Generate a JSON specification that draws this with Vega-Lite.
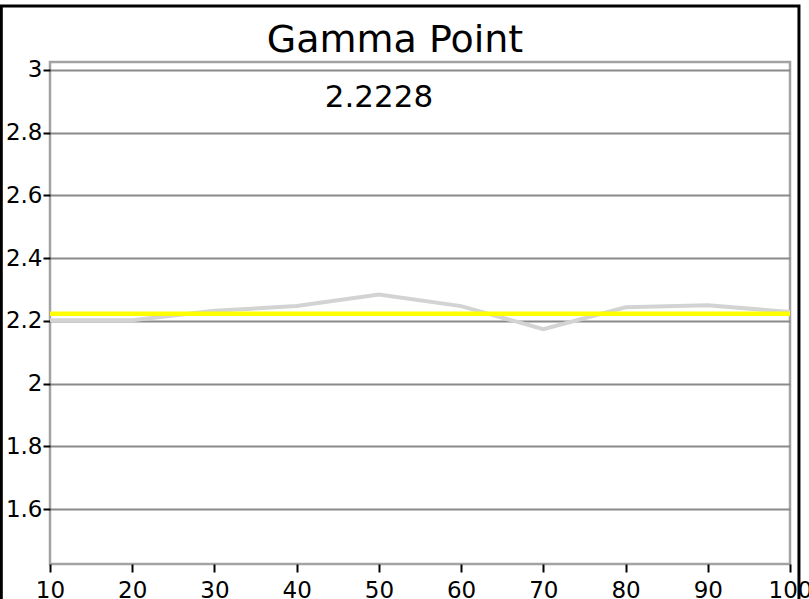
{
  "$schema": "https://vega.github.io/schema/vega-lite/v6.json",
  "width": 740,
  "height": 502,
  "autosize": {"type": "none"},
  "padding": {"left": 50, "top": 62, "right": 19, "bottom": 35},
  "background": "white",
  "datasets": {
    "curve": [
      {"level": 10, "gamma": 2.202},
      {"level": 20, "gamma": 2.202},
      {"level": 30, "gamma": 2.232},
      {"level": 40, "gamma": 2.247},
      {"level": 50, "gamma": 2.284},
      {"level": 60, "gamma": 2.247},
      {"level": 70, "gamma": 2.1735},
      {"level": 80, "gamma": 2.243},
      {"level": 90, "gamma": 2.25},
      {"level": 100, "gamma": 2.228}
    ],
    "target": [{"gamma": 2.2228}],
    "frame": [{"name": "frame"}]
  },
  "title": {
    "text": "Gamma Point",
    "font": "DejaVu Sans",
    "fontSize": 38,
    "fontWeight": "normal",
    "color": "black",
    "anchor": "middle",
    "frame": "group",
    "dx": -25,
    "dy": 36,
    "offset": -58,
    "baseline": "bottom"
  },
  "config": {
    "view": {"stroke": "#a3a3a3", "strokeWidth": 2.5},
    "axis": {
      "labelFont": "DejaVu Sans",
      "labelColor": "black",
      "tickColor": "black",
      "tickWidth": 2,
      "domain": false,
      "title": null
    }
  },
  "layer": [
    {
      "data": {"name": "curve"},
      "mark": {"type": "line", "color": "#d3d3d3", "strokeWidth": 4},
      "encoding": {
        "x": {
          "field": "level",
          "type": "quantitative",
          "scale": {"domain": [10, 100], "nice": false, "zero": false},
          "axis": {
            "values": [10, 20, 30, 40, 50, 60, 70, 80, 90, 100],
            "format": "d",
            "grid": false,
            "labelFontSize": 23,
            "tickSize": 8,
            "tickOffset": 0,
            "labelPadding": 7,
            "labelOverlap": false,
            "labelBound": false,
            "labelFlush": false
          }
        },
        "y": {
          "field": "gamma",
          "type": "quantitative",
          "scale": {"domain": [1.425, 3.025], "nice": false, "zero": false},
          "axis": {
            "values": [1.6, 1.8, 2, 2.2, 2.4, 2.6, 2.8, 3],
            "format": "~g",
            "grid": true,
            "gridColor": "#8a8a8a",
            "gridWidth": 2,
            "gridOpacity": 1,
            "labelFontSize": 23,
            "tickSize": 7,
            "labelPadding": 1,
            "labelBound": false,
            "labelOverlap": false
          }
        }
      }
    },
    {
      "data": {"name": "target"},
      "mark": {"type": "rule", "color": "#ffff00", "strokeWidth": 4.5},
      "encoding": {
        "y": {"field": "gamma", "type": "quantitative"}
      }
    },
    {
      "data": {"name": "target"},
      "mark": {
        "type": "text",
        "font": "DejaVu Sans",
        "fontSize": 31,
        "color": "black",
        "align": "center",
        "baseline": "alphabetic"
      },
      "encoding": {
        "x": {"datum": 50, "type": "quantitative"},
        "y": {"datum": 2.8816, "type": "quantitative"},
        "text": {"field": "gamma", "type": "quantitative", "format": ".4f"}
      }
    },
    {
      "data": {"name": "frame"},
      "mark": {
        "type": "rect",
        "fill": null,
        "fillOpacity": 0,
        "stroke": "black",
        "strokeWidth": 3,
        "clip": false
      },
      "encoding": {
        "x": {"datum": 4.077, "type": "quantitative"},
        "x2": {"datum": 101.09},
        "y": {"datum": 3.2035, "type": "quantitative"},
        "y2": {"datum": 1.278}
      }
    }
  ]
}
